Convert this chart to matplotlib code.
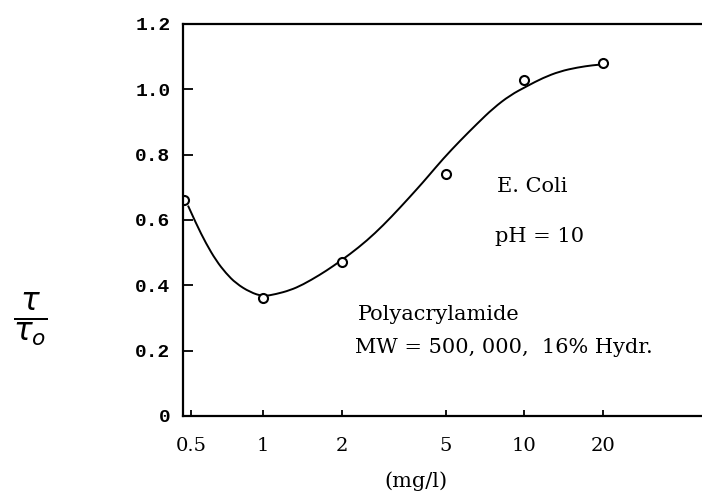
import matplotlib
matplotlib.use('Agg')
import matplotlib.pyplot as plt
from matplotlib.path import Path
from matplotlib.patches import PathPatch

# measured points
conc = [0.5, 1, 2, 5, 10, 20]
ratio = [0.66, 0.36, 0.47, 0.74, 1.03, 1.08]

# hand drawn smooth curve
curve_x = [0.516, 0.554, 0.605, 0.661, 0.721, 0.788, 0.892, 1.0, 1.12, 1.27, 1.42,
           1.65, 1.85, 2.15, 2.50, 2.88, 3.35, 3.93, 4.25, 4.90, 5.69, 6.61, 7.61,
           8.84, 10.27, 11.8, 13.7, 16.0, 18.4, 19.9]
curve_y = [0.644, 0.589, 0.528, 0.476, 0.437, 0.406, 0.379, 0.366, 0.373, 0.385, 0.402,
           0.432, 0.458, 0.495, 0.537, 0.583, 0.638, 0.699, 0.730, 0.788, 0.843, 0.895, 0.942,
           0.982, 1.010, 1.035, 1.055, 1.067, 1.074, 1.076]

xtick_pos = [0.53, 1, 2, 5, 10, 20]
xtick_lab = ['0.5', '1', '2', '5', '10', '20']
ytick_pos = [0, 0.2, 0.4, 0.6, 0.8, 1.0, 1.2]
ytick_lab = ['0', '0.2', '0.4', '0.6', '0.8', '1.0', '1.2']

fig = plt.figure(figsize=(7.02, 4.94), dpi=100)
ax = fig.add_axes([183/702, 1-416/494, 1-183/702, (416-24)/494])

# smooth path: quadratic pieces through the midpoints of the read points
verts = [(curve_x[0], curve_y[0])]
codes = [Path.MOVETO]
for i in range(1, len(curve_x) - 1):
    mx = (curve_x[i] * curve_x[i+1]) ** 0.5
    my = (curve_y[i] + curve_y[i+1]) / 2
    verts += [(curve_x[i], curve_y[i]), (mx, my)]
    codes += [Path.CURVE3, Path.CURVE3]
verts.append((curve_x[-1], curve_y[-1]))
codes.append(Path.LINETO)
ax.add_patch(PathPatch(Path(verts, codes), fill=False, ec='black', lw=1.4))

ax.plot(conc, ratio, 'o', mfc='white', mec='black', ms=6.5, mew=1.5)

ax.set_xscale('log')
ax.set_xlim(0.4937, 48)
ax.set_ylim(0, 1.2)
ax.spines['right'].set_visible(False)
for s in ['left', 'top', 'bottom']:
    ax.spines[s].set_linewidth(1.6)

ax.set_xticks(xtick_pos)
ax.set_xticklabels(xtick_lab)
ax.xaxis.set_minor_locator(matplotlib.ticker.NullLocator())
ax.set_yticks(ytick_pos)
ax.set_yticklabels(ytick_lab)
ax.tick_params(axis='x', direction='in', length=4, width=1.3, pad=15)
ax.tick_params(axis='y', direction='in', length=7, width=1.3, pad=9)
for t in ax.get_xticklabels():
    t.set_fontfamily('DejaVu Serif')
    t.set_fontsize(14)
for t in ax.get_yticklabels():
    t.set_fontfamily('Liberation Mono')
    t.set_fontweight('bold')
    t.set_fontsize(14)

serif = 'DejaVu Serif'
fs = 15
fig.text(497/702, 1-187/494, 'E. Coli', family=serif, fontsize=fs, va='center')
fig.text(495/702, 1-237/494, 'pH = 10', family=serif, fontsize=fs, va='center')
fig.text(358/702, 1-314/494, 'Polyacrylamide', family=serif, fontsize=fs, va='center')
fig.text(355/702, 1-347/494, 'MW = 500, 000,  16% Hydr.', family=serif, fontsize=fs, va='center')
fig.text(416/702, 1-481/494, '(mg/l)', family=serif, fontsize=fs, va='center', ha='center')
fig.text(30/702, 1-320/494, r'$\frac{\tau}{\tau_o}$', fontsize=32, va='center', ha='center')

fig.savefig('out.png', dpi=100)
